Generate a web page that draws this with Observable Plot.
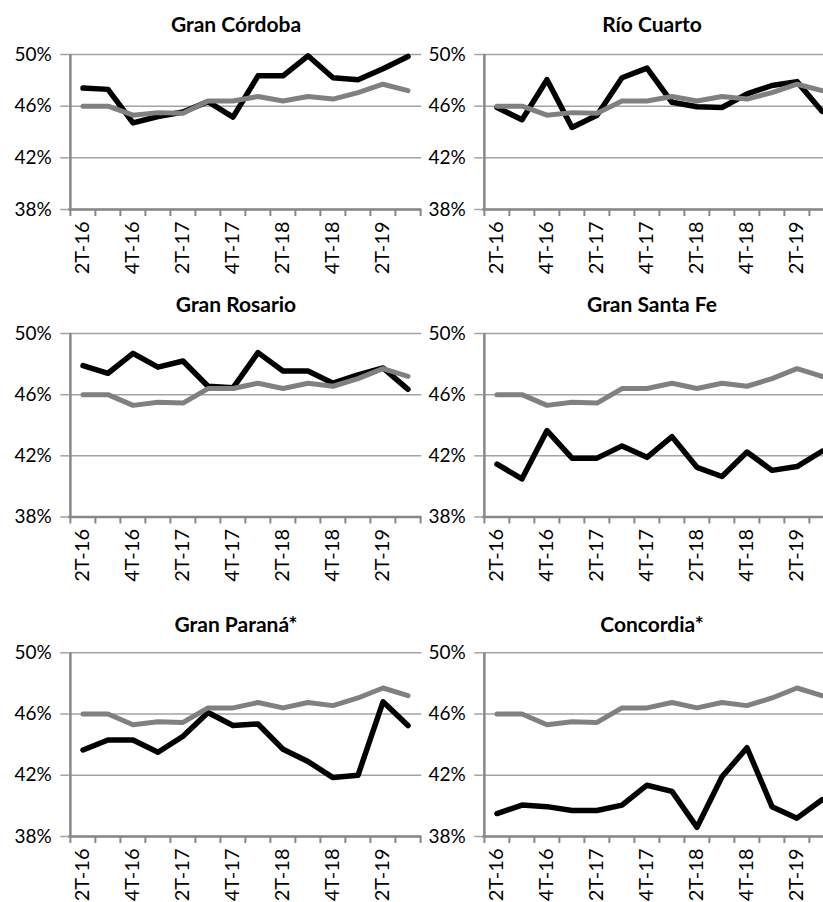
<!DOCTYPE html>
<html><head><meta charset="utf-8">
<script src="https://cdn.jsdelivr.net/npm/d3@7"></script>
<script src="https://cdn.jsdelivr.net/npm/@observablehq/plot@0.6"></script>
<style>
html,body{margin:0;padding:0;background:#fff;overflow:hidden}
#chart{position:relative;width:823px;height:902px;overflow:hidden;font-family:Lato,sans-serif}
.panel{position:absolute}
.title{position:absolute;font-weight:bold;font-size:21px;line-height:1.2;color:#000;white-space:nowrap;transform:translateX(-50%)}
</style></head><body><div id="chart"></div>
<script>
// ---- data ----
const quarters = ["2T-16","3T-16","4T-16","1T-17","2T-17","3T-17","4T-17","1T-18","2T-18","3T-18","4T-18","1T-19","2T-19","3T-19"];
const tickLabels = ["2T-16","4T-16","2T-17","4T-17","2T-18","4T-18","2T-19"];
const yTicks = [38, 42, 46, 50];
const regions = ["Gran Córdoba","Río Cuarto","Gran Rosario","Gran Santa Fe","Gran Paraná*","Concordia*"];
const average   = [46.0,46.0,45.3,45.5,45.45,46.4,46.4,46.75,46.4,46.75,46.55,47.05,47.7,47.2];
const cordoba   = [47.4,47.3,44.7,45.2,45.55,46.35,45.15,48.35,48.35,49.9,48.2,48.05,48.9,49.85];
const rioCuarto = [45.9,44.95,48.05,44.35,45.3,48.2,48.95,46.3,45.95,45.9,46.95,47.6,47.9,45.6];
const rosario   = [47.9,47.4,48.7,47.8,48.2,46.55,46.45,48.75,47.55,47.55,46.75,47.3,47.75,46.35];
const santaFe   = [41.45,40.5,43.65,41.85,41.85,42.65,41.9,43.25,41.25,40.65,42.25,41.05,41.3,42.3];
const parana    = [43.65,44.3,44.3,43.5,44.55,46.1,45.25,45.35,43.7,42.9,41.85,42.0,46.8,45.25];
const concordia = [39.5,40.05,39.95,39.7,39.7,40.05,41.35,40.95,38.6,41.9,43.8,39.95,39.2,40.4];
const regionSeries = [cordoba, rioCuarto, rosario, santaFe, parana, concordia];

// ---- layout ----
const W = 425, ML = 68.3, MR = 3.7;
const bw = (W - ML - MR) / quarters.length;
const cols = [{left: 0, titleX: 236}, {left: 414.4, titleX: 652}];
const rows = [
  {top: 40,  height: 240, mt: 14,   mb: 71,   titleTop: 11},
  {top: 320, height: 270, mt: 13,   mb: 73.5, titleTop: 291},
  {top: 640, height: 262, mt: 12.3, mb: 66,   titleTop: 611}
];
const chart = document.getElementById("chart");
const axisGray = "#878787", gridGray = "#a3a3a3";

regions.forEach((name, k) => {
  const col = cols[k % 2], row = rows[Math.floor(k / 2)];
  const table = (vals) => quarters.map((q, i) => ({quarter: q, value: vals[i]}));
  const svg = Plot.plot({
    width: W, height: row.height,
    marginLeft: ML, marginRight: MR, marginTop: row.mt, marginBottom: row.mb,
    style: {fontFamily: "Lato, sans-serif", fontSize: "19px", color: "#000", background: "transparent", overflow: "visible"},
    x: {type: "band", domain: quarters, padding: 0},
    y: {domain: [38, 50]},
    marks: [
      Plot.gridY(yTicks, {stroke: gridGray, strokeOpacity: 1, strokeWidth: 1.5}),
      Plot.axisY(yTicks, {tickSize: 8, tickPadding: 9, tickFormat: d => d + "%", stroke: gridGray, strokeWidth: 1.5, fill: "#000", fontSize: 19, label: null}),
      Plot.ruleX([quarters[0]], {dx: -bw / 2, stroke: axisGray, strokeWidth: 2.5}),
      Plot.ruleY([38], {stroke: axisGray, strokeWidth: 2.5}),
      Plot.axisX(quarters, {tickSize: 7, tickFormat: () => "", dx: -bw / 2, stroke: axisGray, strokeWidth: 2, label: null}),
      Plot.axisX([quarters[quarters.length - 1]], {tickSize: 7, tickFormat: () => "", dx: bw / 2, stroke: axisGray, strokeWidth: 2, label: null}),
      Plot.axisX(tickLabels, {tickSize: 0, tickPadding: 12, tickRotate: -90, fill: "#000", fontSize: 20, label: null}),
      Plot.line(table(regionSeries[k]), {x: "quarter", y: "value", stroke: "#000", strokeWidth: 5.5, strokeLinejoin: "round", strokeLinecap: "round"}),
      Plot.line(table(average), {x: "quarter", y: "value", stroke: "#808080", strokeWidth: 5, strokeLinejoin: "round", strokeLinecap: "round"})
    ]
  });
  svg.classList.add("panel");
  svg.style.left = col.left + "px";
  svg.style.top = row.top + "px";
  chart.appendChild(svg);
  const t = document.createElement("div");
  t.className = "title";
  t.textContent = name;
  t.style.left = col.titleX + "px";
  t.style.top = row.titleTop + "px";
  chart.appendChild(t);
});
</script></body></html>
